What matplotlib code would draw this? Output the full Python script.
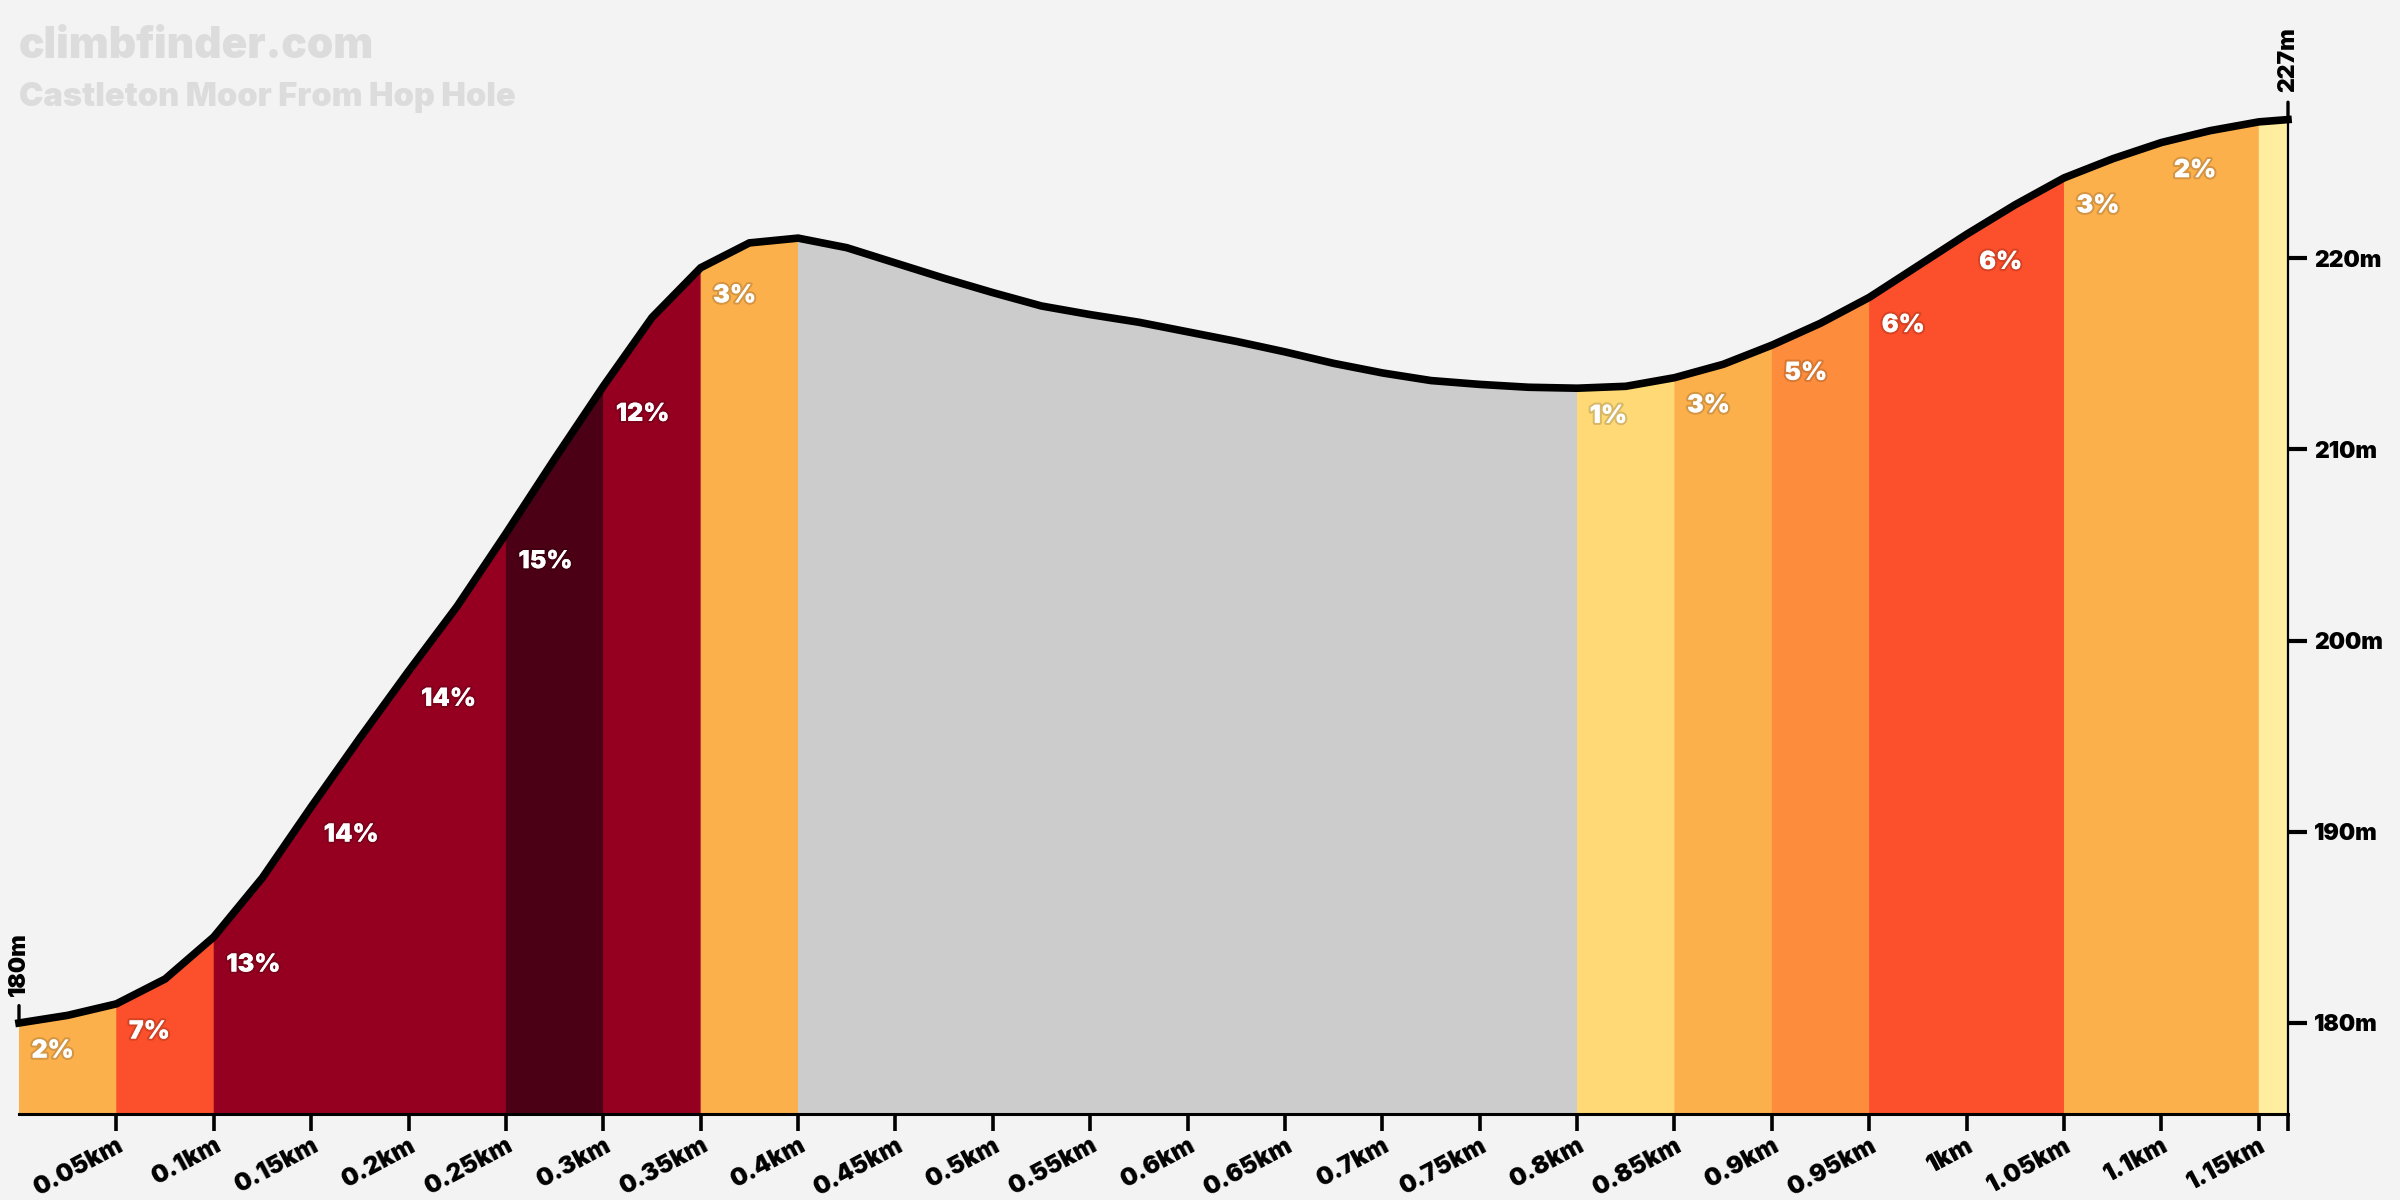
import matplotlib
matplotlib.use("Agg")
import matplotlib.pyplot as plt
import matplotlib.patheffects as pe
import numpy as np

# ---------------- data ----------------
distance_km = [0.000, 0.025, 0.050, 0.075, 0.100, 0.125, 0.150, 0.175, 0.200, 0.225,
               0.250, 0.275, 0.300, 0.325, 0.350, 0.375, 0.400, 0.425, 0.450, 0.475,
               0.500, 0.525, 0.550, 0.575, 0.600, 0.625, 0.650, 0.675, 0.700, 0.725,
               0.750, 0.775, 0.800, 0.825, 0.850, 0.875, 0.900, 0.925, 0.950, 0.975,
               1.000, 1.025, 1.050, 1.075, 1.100, 1.125, 1.150, 1.165]
elevation_m = [180.0, 180.4, 181.0, 182.3, 184.5, 187.6, 191.3, 194.9, 198.4, 201.8,
               205.6, 209.5, 213.3, 216.9, 219.5, 220.8, 221.05, 220.55, 219.75, 218.95,
               218.2, 217.5, 217.05, 216.65, 216.15, 215.65, 215.1, 214.5, 214.0, 213.6,
               213.4, 213.25, 213.2, 213.3, 213.75, 214.45, 215.45, 216.6, 217.95, 219.6,
               221.25, 222.8, 224.2, 225.2, 226.05, 226.67, 227.13, 227.25]

segment_starts = [0.00, 0.05, 0.10, 0.15, 0.20, 0.25, 0.30, 0.35, 0.40, 0.80,
                  0.85, 0.90, 0.95, 1.00, 1.05, 1.10, 1.15]
segment_ends = [0.05, 0.10, 0.15, 0.20, 0.25, 0.30, 0.35, 0.40, 0.80, 0.85,
                0.90, 0.95, 1.00, 1.05, 1.10, 1.15, 1.165]
segment_labels = ["2%", "7%", "13%", "14%", "14%", "15%", "12%", "3%", "",
                  "1%", "3%", "5%", "6%", "6%", "3%", "2%", ""]
segment_colors = ["#FCB04C", "#FC4F2B", "#950020", "#950020", "#950020", "#4C0016",
                  "#950020", "#FCB04C", "#CCCCCC", "#FED976", "#FCB04C", "#FD8D3C",
                  "#FC4F2B", "#FC4F2B", "#FCB04C", "#FCB04C", "#FFEDA0"]

x_ticks = [0.05, 0.10, 0.15, 0.20, 0.25, 0.30, 0.35, 0.40, 0.45, 0.50, 0.55, 0.60,
           0.65, 0.70, 0.75, 0.80, 0.85, 0.90, 0.95, 1.00, 1.05, 1.10, 1.15, 1.165]
x_tick_labels = ["0.05km", "0.1km", "0.15km", "0.2km", "0.25km", "0.3km", "0.35km",
                 "0.4km", "0.45km", "0.5km", "0.55km", "0.6km", "0.65km", "0.7km",
                 "0.75km", "0.8km", "0.85km", "0.9km", "0.95km", "1km", "1.05km",
                 "1.1km", "1.15km", ""]
y_ticks = [180, 190, 200, 210, 220]
y_tick_labels = ["180m", "190m", "200m", "210m", "220m"]

title = "climbfinder.com"
subtitle = "Castleton Moor From Hop Hole"
start_label = "180m"
end_label = "227m"

# ---------------- style ----------------
plt.rcParams["font.family"] = ["Inter", "DejaVu Sans"]
W = 900
BG = "#F3F3F3"
YMIN, YMAX = 175.24, 230.0

fig = plt.figure(figsize=(24, 12), dpi=100, facecolor=BG)
ax = fig.add_axes([19 / 2400, 1 - 1114 / 1200, (2288 - 19) / 2400, (1114 - 67) / 1200])
ax.set_facecolor(BG)

dist = np.array(distance_km)
elev = np.array(elevation_m)

for s, e, col in zip(segment_starts, segment_ends, segment_colors):
    m = (dist >= s - 1e-9) & (dist <= e + 1e-9)
    ax.fill_between(dist[m], elev[m], YMIN, facecolor=col, edgecolor=col, lw=0.8,
                    zorder=1)

ax.plot(dist, elev, color="black", lw=5.5, solid_capstyle="projecting",
        solid_joinstyle="miter", zorder=5, clip_on=False)

# right edge line
ax.plot([dist[-1], dist[-1]], [YMIN, elev[-1]], color="black", lw=1.6, zorder=4,
        clip_on=False)

# gradient labels
effects = [pe.Stroke(linewidth=3, foreground=(0, 0, 0, 0.15)), pe.Normal()]
for s, lab in zip(segment_starts, segment_labels):
    if not lab:
        continue
    y0 = np.interp(s, dist, elev)
    ax.annotate(lab, xy=(s, y0), xytext=(9, -12), textcoords="offset points",
                ha="left", va="top", color="white", fontsize=18, fontweight=W,
                zorder=6, path_effects=effects)

# start / end markers
for xv, yv, lab in [(dist[0], elev[0], start_label), (dist[-1], elev[-1], end_label)]:
    ax.annotate(lab, xy=(xv, yv), xytext=(0, 19.5), textcoords="offset points",
                rotation=90, ha="center", va="bottom", fontsize=16.5, fontweight=W,
                color="black", annotation_clip=False,
                arrowprops=dict(arrowstyle="-", lw=2.4, color="black",
                                shrinkA=5, shrinkB=0))

ax.set_xlim(0, dist[-1])
ax.set_ylim(YMIN, YMAX)

ax.set_xticks(x_ticks)
ax.set_xticklabels(x_tick_labels, rotation=28, ha="right", va="top",
                   rotation_mode="anchor", fontsize=17.5, fontweight=W)
ax.tick_params(axis="x", length=12.5, width=2.6, pad=2, color="black")

ax.yaxis.tick_right()
ax.set_yticks(y_ticks)
ax.set_yticklabels(y_tick_labels, fontsize=16.5, fontweight=W)
ax.tick_params(axis="y", length=14, width=3, pad=5, color="black")

for side in ["left", "top", "right"]:
    ax.spines[side].set_visible(False)
ax.spines["bottom"].set_linewidth(2.2)
ax.spines["bottom"].set_zorder(6)

fig.text(19 / 2400, 1 - 26 / 1200, title, ha="left", va="top", fontsize=30.5,
         fontweight=W, color="#DCDCDC")
fig.text(19 / 2400, 1 - 82 / 1200, subtitle, ha="left", va="top", fontsize=23.5,
         fontweight=W, color="#DCDCDC")

fig.savefig("out.png", dpi=100, facecolor=BG)
